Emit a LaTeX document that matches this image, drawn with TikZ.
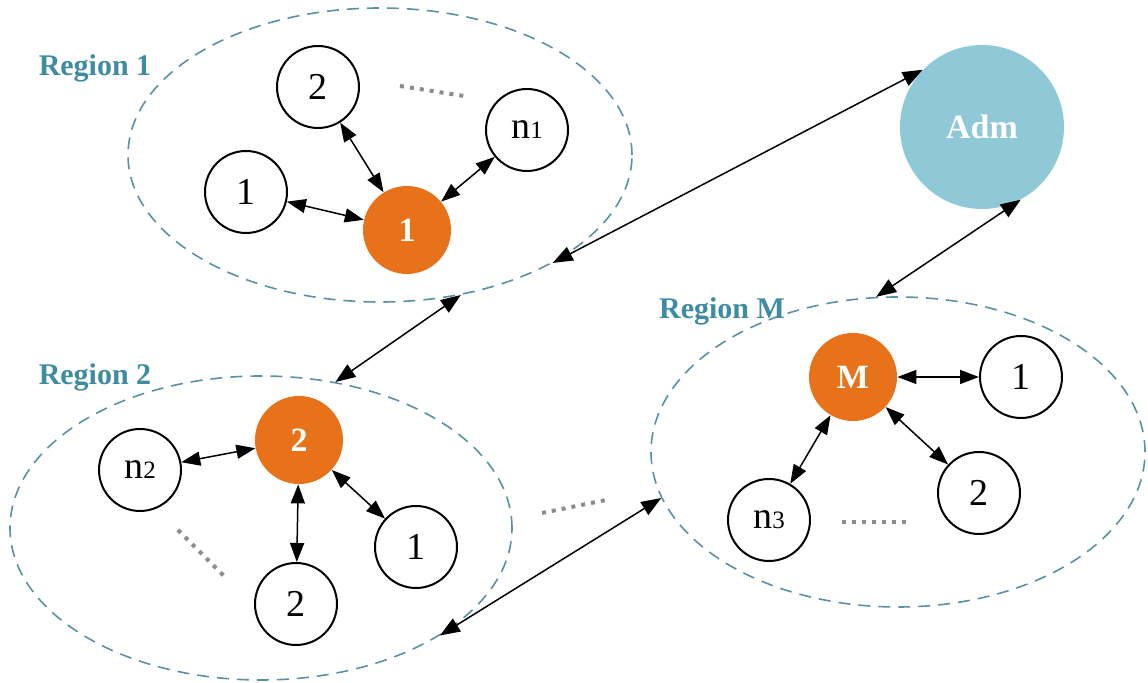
\documentclass[tikz,border=0pt]{standalone}
\usepackage{fontspec}
\setmainfont{Liberation Serif}
\usetikzlibrary{arrows.meta,shapes.geometric}
\definecolor{regc}{RGB}{62,140,160}
\definecolor{dashc}{RGB}{90,145,165}
\definecolor{orng}{RGB}{232,114,26}
\definecolor{admc}{RGB}{143,201,216}
\definecolor{dotc}{RGB}{140,140,140}
\newcommand{\subn}[1]{{\fontsize{12.5}{12.5}\selectfont #1}}
\begin{document}
\begin{tikzpicture}[x=0.5pt,y=-0.5pt,
 wnode/.style={circle,draw=black,line width=1pt,fill=white,minimum size=41pt,inner sep=0pt,font=\fontsize{19}{19}\selectfont},
 onode/.style={circle,fill=orng,minimum size=44pt,inner sep=0pt,text=white,font=\bfseries\fontsize{17}{17}\selectfont},
 region/.style={ellipse,draw=dashc,dash pattern=on 6pt off 4pt,line width=0.8pt,inner sep=0pt},
 rlabel/.style={text=regc,font=\bfseries\fontsize{15}{15}\selectfont},
 link/.style={{Triangle[length=10pt,width=7.5pt]}-{Triangle[length=10pt,width=7.5pt]},line width=0.75pt},
 ilink/.style={{Triangle[length=9.5pt,width=7pt]}-{Triangle[length=9.5pt,width=7pt]},line width=0.75pt},
 dots/.style={dotc,line width=2pt,dash pattern=on 2pt off 3pt}
]
\useasboundingbox (0,0) rectangle (1148,683);
% regions
\node[region,minimum width=252pt,minimum height=147pt] (r1) at (380,155) {};
\node[region,minimum width=251pt,minimum height=152pt] (r2) at (261,528) {};
\node[region,minimum width=247pt,minimum height=155pt] (rM) at (898,452) {};
% labels
\node[rlabel] (l1) at (95,68) {Region 1};
\node[rlabel] (l2) at (95,377) {Region 2};
\node[rlabel] (lM) at (722,311) {Region M};
% admin
\node[circle,fill=admc,minimum size=82pt,inner sep=0pt,text=white,font=\bfseries\fontsize{17}{17}\selectfont] (adm) at (982,127) {Adm};
% region 1 nodes
\node[onode] (h1) at (407,230) {1};
\node[wnode] (a1) at (246,192) {1};
\node[wnode] (a2) at (318,87) {2};
\node[wnode] (an) at (527,130) {n\subn{1}};
% region 2 nodes
\node[onode] (h2) at (299,440) {2};
\node[wnode] (b1) at (416,547) {1};
\node[wnode] (b2) at (296,604) {2};
\node[wnode] (bn) at (140,470) {n\subn{2}};
% region M nodes
\node[onode] (hM) at (853,377) {M};
\node[wnode] (c1) at (1021,377) {1};
\node[wnode] (c2) at (979,493) {2};
\node[wnode] (cn) at (769,520) {n\subn{3}};
% dots
\draw[dots] (400,86) -- (464,96);
\draw[dots] (178,530) -- (224,576);
\draw[dots] (842,522) -- (908,522);
\draw[dots] (542,513) -- (606,500);
% inner links
\draw[ilink] (a1) -- (h1);
\draw[ilink] (a2) -- (h1);
\draw[ilink] (an) -- (h1);
\draw[ilink] (bn) -- (h2);
\draw[ilink] (b2) -- (h2);
\draw[ilink] (b1) -- (h2);
\draw[ilink] (hM) -- (c1);
\draw[ilink] (hM) -- (cn);
\draw[ilink] (hM) -- (c2);
% long links
\draw[link] (adm.136) -- (r1.-32);
\draw[link] (adm.-62) -- (rM.98);
\draw[link] (r1.-60) -- (r2.63);
\draw[link] (r2.-31) -- (rM.191);
\end{tikzpicture}
\end{document}
